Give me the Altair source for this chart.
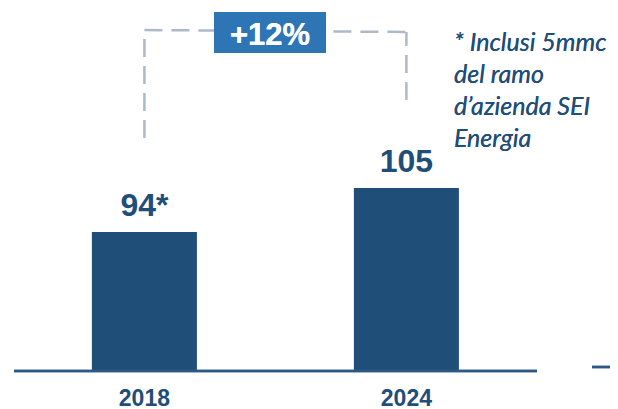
import altair as alt
import pandas as pd

# ---- data ----
years = ["2018", "2024"]
values = [94, 105]
value_labels = ["94*", "105"]
note_lines = ["* Inclusi 5mmc", "del ramo", "d\u2019azienda SEI", "Energia"]

# dashed growth connector (value units): vertical legs and top edge
leg_low = [117.5, 127.0]
leg_high = [144.5, 144.0]

growth = values[1] / values[0] - 1
growth_label = f"+{growth * 100:.0f}%"

# ---- styling / layout constants ----
BAR = "#1F4E79"
AXIS = "#2C5985"
DASH = "#ADB9CA"
BOX = "#2E75B6"
BASE = 59.25
W, H = 602, 363

df = pd.DataFrame({"year": years, "value": values, "label": value_labels, "base": [BASE] * 2,
                   "lo": leg_low, "hi": leg_high})

xscale = alt.Scale(domain=years, paddingInner=0.5992, paddingOuter=0.4485, align=0.357)
yscale = alt.Scale(domain=[BASE, 150], zero=False, nice=False)

xaxis = alt.Axis(
    title=None, labelAngle=0, ticks=False, domain=False,
    labelFont="Liberation Sans", labelFontSize=23, labelFontWeight="bold", labelColor=BAR,
    labelPadding=16)
X = alt.X("year:N", scale=xscale, axis=xaxis)


def Y(field):
    return alt.Y(field, scale=yscale, axis=None)


base = alt.Chart(df)

baseline = base.mark_rule(color=AXIS, strokeWidth=2.5).encode(
    x=alt.value(6), x2=alt.value(529), y=alt.value(H)
)

bars = base.mark_bar(color=BAR).encode(x=X, y=Y("value:Q"), y2="base:Q")

labels = base.mark_text(
    font="Liberation Sans", fontSize=32, fontWeight="bold", color=BAR,
    baseline="alphabetic", dy=-16,
).encode(x=X, y=Y("value:Q"), text="label:N")

legs = base.mark_rule(color=DASH, strokeWidth=2.5, strokeDash=[18, 9]).encode(
    x=X, y=Y("lo:Q"), y2="hi:Q",
)
top_edge = base.mark_line(color=DASH, strokeWidth=2.5, strokeDash=[18, 9]).encode(
    x=X, y=Y("hi:Q"),
)

box = base.mark_rule(color=BOX, strokeWidth=41, strokeCap="butt").encode(
    x=alt.value(206), x2=alt.value(318), y=alt.value(24.5)
)
box_text = base.mark_text(
    font="Liberation Sans", fontSize=31, fontWeight="bold", color="white", baseline="alphabetic"
).encode(x=alt.value(262), y=alt.value(37), text=alt.value(growth_label))

note = base.mark_text(
    font="Lato", fontSize=25, fontStyle="italic", color=BAR, align="left",
    baseline="alphabetic", lineHeight=32,
).encode(x=alt.value(446), y=alt.value(43), text=alt.value(note_lines))

tick = base.mark_rule(color=AXIS, strokeWidth=2.5).encode(
    x=alt.value(584), x2=alt.value(602), y=alt.value(359)
)

chart = alt.layer(legs, top_edge, box, box_text, bars, labels, note, baseline, tick).properties(
    width=W, height=H,
    autosize=alt.AutoSizeParams(type="none"),
    padding={"left": 0, "top": 0, "right": 0, "bottom": 38},
    background="white",
).configure_view(stroke=None)

chart.save("out.html", embed_options={"renderer": "svg", "actions": False})
